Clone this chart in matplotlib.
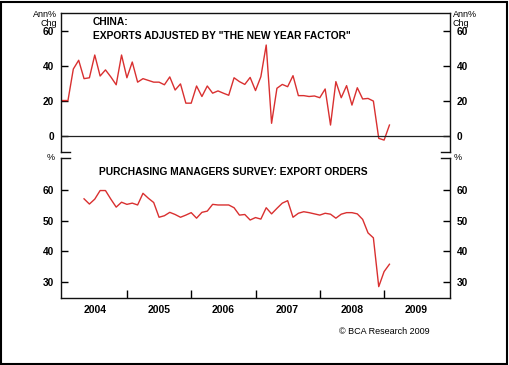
import matplotlib
matplotlib.use("Agg")
import matplotlib.pyplot as plt
from matplotlib.patches import Rectangle
from matplotlib.lines import Line2D
import numpy as np

plt.rcParams['font.family'] = ['Liberation Sans', 'DejaVu Sans']

# ---- data (monthly, Jan 2004 - Feb 2009) ----
exports_start = 2004.0
exports = [20, 20, 38, 43, 32.5, 33, 46, 34, 37.5, 33.5, 29, 46,
           33, 42, 30.5, 32.5, 31.5, 30.5, 30.5, 29, 33.5, 26, 29.5, 18.5,
           18.5, 28.3, 22.3, 28.3, 24.2, 25.5, 24.2, 23, 33, 30.8, 29.2, 33.2,
           25.7, 33.6, 51.7, 7, 27, 29.2, 27.9, 34.2, 22.8, 22.8, 22.3, 22.6,
           21.6, 26.6, 6, 30.8, 21.6, 28.5, 17.4, 27.3, 20.9, 21.2, 19.7, -1.6,
           -2.6, 6]

pmi_start = 2004 + 4 / 12  # May 2004
pmi = [57.1, 55.4, 57.0, 59.8, 59.8, 57.0, 54.4, 56.0,
       55.3, 55.7, 55.1, 58.9, 57.3, 55.9, 51.1, 51.6, 52.7, 52.0, 51.1, 51.8,
       52.6, 50.8, 52.7, 53.1, 55.3, 55.1, 55.1, 55.1, 54.2, 51.8, 52.0, 50.2,
       51.0, 50.5, 54.2, 52.2, 54.0, 55.7, 56.5, 51.1, 52.4, 52.9, 52.6, 52.2,
       51.8, 52.4, 52.1, 50.8, 52.1, 52.6, 52.6, 52.2, 50.4, 46.0, 44.4, 28.5,
       33.4, 35.8]

years = [2004, 2005, 2006, 2007, 2008, 2009]
top_ticks = [0, 20, 40, 60]
bot_ticks = [30, 40, 50, 60]

title_top = 'CHINA:\nEXPORTS ADJUSTED BY "THE NEW YEAR FACTOR"'
title_bot = 'PURCHASING MANAGERS SURVEY: EXPORT ORDERS'

# ---- figure ----
W, H = 510, 365
fig = plt.figure(figsize=(W / 100, H / 100), dpi=100)
fig.patch.set_facecolor('white')

def ax_rect(x0, y0, x1, y1):
    return [x0 / W, 1 - y1 / H, (x1 - x0) / W, (y1 - y0) / H]

line_color = '#d93030'
xlim = (2003.975, 2010.025)

ax1 = fig.add_axes(ax_rect(61, 13, 450, 152))
ax2 = fig.add_axes(ax_rect(61, 158, 450, 298))

x_exp = exports_start + np.arange(len(exports)) / 12
x_pmi = pmi_start + np.arange(len(pmi)) / 12

ax1.plot(x_exp, exports, color=line_color, lw=1.0)
ax1.axhline(0, color='#222222', lw=0.9)
ax1.set_xlim(*xlim)
ax1.set_ylim(-9.4, 70)
ax1.set_xticks([])
ax1.spines['bottom'].set_visible(False)

ax2.plot(x_pmi, pmi, color=line_color, lw=1.0)
ax2.set_xlim(*xlim)
ax2.set_ylim(24.8, 70.4)
ax2.spines['top'].set_visible(False)

for ax, ticks in ((ax1, top_ticks), (ax2, bot_ticks)):
    ax.set_yticks(ticks)
    ax.tick_params(axis='y', which='both', direction='in', length=5, width=1,
                   left=True, right=True, labelleft=True, labelright=True,
                   labelsize=7.3, pad=5)
    for lab in ax.get_yticklabels():
        lab.set_fontweight('bold')
    for s in ax.spines.values():
        s.set_linewidth(1.0)
        s.set_color('#111111')
    ax.set_facecolor('white')

# x ticks bottom panel: inward marks at year starts, labels mid-year
ax2.set_xticks(years[1:])
ax2.set_xticklabels([])
ax2.tick_params(axis='x', which='major', direction='in', length=6, width=1)
ax2.set_xticks([y + 0.5 for y in years], minor=True)
ax2.set_xticklabels([str(y) for y in years], minor=True, fontsize=7.5,
                    fontweight='bold')
ax2.tick_params(axis='x', which='minor', length=0, pad=5)

# break marks
bw = 9 / 389
for ax, yy in ((ax1, 0), (ax2, 1)):
    ax.add_line(Line2D([0, bw], [yy, yy], transform=ax.transAxes,
                       color='#111111', lw=1.0, clip_on=False))
    ax.add_line(Line2D([1 - bw, 1], [yy, yy], transform=ax.transAxes,
                       color='#111111', lw=1.0, clip_on=False))

# titles
fig.text(93 / W, 1 - 22 / H, 'CHINA:', ha='left', va='center', fontsize=7.4,
         fontweight='bold')
fig.text(93 / W, 1 - 36 / H, title_top.split('\n')[1], ha='left', va='center',
         fontsize=7.4, fontweight='bold')
fig.text(99 / W, 1 - 172 / H, title_bot, ha='left', va='center', fontsize=7.35,
         fontweight='bold')

# axis unit labels
fig.text(57 / W, 1 - 10 / H, 'Ann%\nChg', ha='right', va='top', fontsize=6.5,
         linespacing=0.95)
fig.text(453 / W, 1 - 10 / H, 'Ann%\nChg', ha='left', va='top', fontsize=6.5,
         linespacing=0.95)
fig.text(55 / W, 1 - 158 / H, '%', ha='right', va='center', fontsize=6.5)
fig.text(454 / W, 1 - 158 / H, '%', ha='left', va='center', fontsize=6.5)

fig.text(430 / W, 1 - 332 / H, '\u00a9 BCA Research 2009', ha='right',
         va='center', fontsize=6.5)

# outer frame
fig.patches.append(Rectangle((1.5 / W, 1.5 / H), (W - 4.5) / W, (H - 3.5) / H,
                             transform=fig.transFigure, fill=False,
                             edgecolor='black', lw=1.5))

fig.savefig('out.png', dpi=100, facecolor='white')
